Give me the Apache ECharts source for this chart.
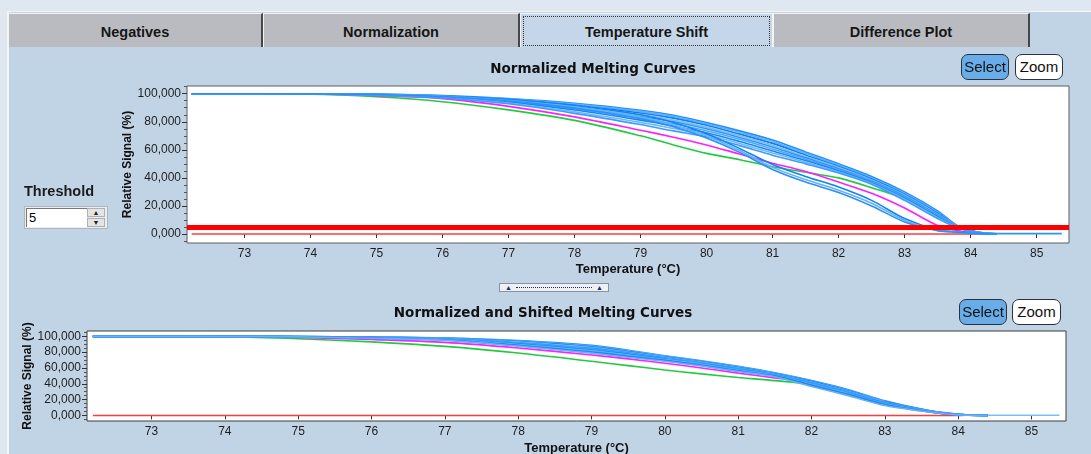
<!DOCTYPE html>
<html>
<head>
<meta charset="utf-8">
<script src="https://cdn.jsdelivr.net/npm/echarts@6/dist/echarts.min.js"></script>
<style>
  body { margin: 0; background: #dfe7f0; }
  #page { position: relative; width: 1091px; height: 454px; overflow: hidden; background: #dfe7f0;
          font-family: 'Liberation Sans', Arial, sans-serif; }
  .panel { position: absolute; left: 7px; top: 11px; right: 0; bottom: 0; background: #c1d4e6;
           border-left: 2px solid #f3f6f9; border-top: 1px solid #f3f6f9; }
  #chart { position: absolute; left: 0; top: 0; width: 1091px; height: 454px; z-index: 1; }
  .ui { position: absolute; z-index: 2; box-sizing: border-box; }
  .tab { top: 13px; height: 34px; background: #b9bbc0; border-top: 1px solid #f4f4f4; border-left: 1px solid #f4f4f4;
         border-right: 2px solid #474747; font-weight: bold; font-size: 14.5px; color: #161616;
         text-align: center; line-height: 37px; }
  .tab.active { background: #c4d6e8; border-right: 1px solid #f4f4f4; }
  .tab .focus { position: absolute; left: 2px; top: 2px; right: 2px; bottom: 1px; border: 1px dotted #333; }
  .btn { height: 26px; border: 1.5px solid #29323d; border-radius: 7px; font-size: 15px; line-height: 23px;
         text-align: center; color: #111; }
  .btn.sel { background: #68ade8; }
  .btn.zoom { background: #fff; }
  .thr { left: 24px; top: 183px; font-weight: bold; font-size: 14.5px; color: #1b1b1b; }
  .spin { left: 24px; top: 206px; width: 84px; height: 23px; background: #e9eef3; border: 1px solid #aeb6bf; }
  .spin .inp { position: absolute; left: 1px; top: 1px; width: 61px; height: 19px; background: #fff;
               border-top: 1px solid #777; border-left: 1px solid #777; box-sizing: border-box;
               font-size: 13px; line-height: 18px; padding-left: 2px; }
  .spin .arr { position: absolute; left: 62px; width: 18px; height: 9px; background: #e4e4e4; border: 1px solid #b0b0b0;
               font-size: 7px; line-height: 8px; text-align: center; color: #222; box-sizing: border-box; }
  .split { left: 499px; top: 283px; width: 110px; height: 9px; background: #eef0f3; border: 1px solid #8a92a0;
           font-size: 7px; line-height: 7px; color: #1d2a7a; }
  .split .dots { position: absolute; left: 16px; right: 16px; top: 3px; border-top: 1px dotted #1d2a7a; }
</style>
</head>
<body>
<div id="page">
  <div class="panel"></div>

  <div class="ui tab" style="left:8px;width:255px;">Negatives</div>
  <div class="ui tab" style="left:263px;width:257px;">Normalization</div>
  <div class="ui tab active" style="left:520px;width:253px;"><span class="focus"></span>Temperature Shift</div>
  <div class="ui tab" style="left:773px;width:257px;">Difference Plot</div>

  <div class="ui btn sel" style="left:961px;top:54px;width:48px;">Select</div>
  <div class="ui btn zoom" style="left:1015px;top:54px;width:48px;">Zoom</div>
  <div class="ui btn sel" style="left:959px;top:299px;width:48px;">Select</div>
  <div class="ui btn zoom" style="left:1012px;top:299px;width:49px;">Zoom</div>

  <div class="ui thr">Threshold</div>
  <div class="ui spin">
    <div class="inp">5</div>
    <div class="arr" style="top:1px;">&#9650;</div>
    <div class="arr" style="top:11px;">&#9660;</div>
  </div>

  <div class="ui split">
    <span style="position:absolute;left:5px;top:0;">&#9650;</span>
    <div class="dots"></div>
    <span style="position:absolute;right:5px;top:0;">&#9650;</span>
  </div>

  <div id="chart"></div>
</div>

<script>
  // temperatures (°C) shared by the curves
  const temps = [72.2, 74, 75, 76, 77, 78, 79, 79.5, 80, 80.5, 81, 81.5, 82, 82.5, 83, 83.5, 83.8, 84.1, 84.4]
  const tailTemps = [84.8, 85.38]
  const xTicks = [73, 74, 75, 76, 77, 78, 79, 80, 81, 82, 83, 84, 85]
  const yTicks = [0, 20, 40, 60, 80, 100]
  const yMinorTicks = [-5, 5, 10, 15, 25, 30, 35, 45, 50, 55, 65, 70, 75, 85, 90, 95, 105]
  const threshold = 5

  // Normalized Melting Curves
  const redTopTemps = [72.2, 84.32]
  const redTop = [0, 0]
  const greenTop = [100, 99.6, 97.8, 94.3, 88.5, 81, 70, 63.5, 57.5, 53, 48, 44, 40, 33, 25, 11.5, 5, 1.5, 0]
  const magentaTop = [100, 99.8, 98.6, 96.5, 91, 83.5, 74, 69, 63.5, 57, 50.5, 44.5, 37, 29, 18.5, 6, 2.5, 0.5, 0]
  const blueTop1 = [100, 100, 99.7, 98.7, 96.5, 93.2, 88.2, 84.6, 79.4, 73.5, 67, 58.5, 50, 41, 30, 16.5, 6, 1.5, 0.2]
  const blueTop2 = [100, 100, 99.6, 98.6, 96.2, 92.6, 87.4, 83.8, 78.6, 72.5, 66, 57.5, 49.2, 40, 29, 15.5, 5.8, 1.4, 0.2]
  const blueTop3 = [100, 100, 99.5, 98.4, 95.8, 91.8, 86.3, 82.6, 77.5, 71.2, 64.6, 56.4, 48.2, 39.2, 28.2, 14.8, 5.5, 1.3, 0.1]
  const blueTop4 = [100, 100, 99.5, 98.2, 95.4, 91, 85, 81.2, 76.2, 70, 63.2, 55.2, 47.4, 38.5, 27.6, 14.2, 5.4, 1.2, 0.1]
  const blueTop5 = [100, 99.9, 99.4, 98, 95, 90.2, 83.8, 80, 75, 68.8, 62, 54.3, 46.6, 37.8, 27, 13.6, 5.2, 1.2, 0.3]
  const blueTop5Tail = [0.3, 0.3]
  const blueTop6 = [100, 99.9, 99.3, 97.8, 94.6, 89.4, 82.6, 78.6, 73.6, 67.5, 60.6, 53.4, 45.8, 37.2, 26.3, 13, 5, 1.1, 0]
  const blueTop7 = [100, 99.9, 99.2, 97.6, 94, 88.4, 81.2, 77, 72.2, 66, 59.2, 52.4, 45, 36.6, 25.5, 12.4, 4.8, 1.1, 0]
  const blueTop8 = [100, 99.8, 99.1, 97.3, 93.4, 87.2, 79.6, 75.2, 70.8, 64.5, 57.8, 51.2, 44.2, 36, 24.8, 11.7, 4.6, 1, 0]
  const blueTop9 = [100, 99.8, 99, 97, 92.8, 86, 78, 73.5, 69.3, 63, 56.2, 50, 43.5, 35.5, 24, 11, 4.5, 1, 0]
  const blueTop10 = [100, 100, 99.6, 98.4, 95.8, 91.6, 85, 79.5, 71.5, 61, 49.5, 41, 33.5, 24, 11, 2.8, 1.8, 0.6, 0]
  const blueTop11 = [100, 100, 99.5, 98.2, 95.2, 90.6, 83.4, 77.8, 69.8, 59.5, 47.5, 38.8, 31.2, 22, 9.8, 2.6, 1.4, 0.4, 0]
  const blueTop12 = [100, 99.9, 99.4, 98, 94.8, 89.8, 82.2, 76.5, 68.4, 58.2, 46, 37, 29.6, 20, 8.6, 2.4, 1.2, 0.3, 0]

  // Normalized and Shifted Melting Curves
  const redBotTemps = [72.2, 84.07]
  const redBot = [0, 0]
  const greenBot = [100, 99.5, 97, 93, 87.3, 79, 68.5, 63, 57.5, 52.5, 48, 44, 39, 28.5, 16.5, 7, 3, 0.5, 0]
  const magentaBot = [100, 99.8, 98.5, 96, 92.4, 85.3, 76.5, 71.5, 66, 60, 53.5, 47.5, 41, 31, 18, 7.5, 3.5, 0.6, 0]
  const blueBot1 = [100, 100, 99.8, 99.2, 98, 94.8, 88.8, 82.4, 75.4, 69, 62, 53.8, 44, 32.5, 18.5, 8, 3.2, 0.9, 0]
  const blueBot2 = [100, 100, 99.8, 99.1, 97.8, 94.2, 87.8, 81.6, 74.8, 68.4, 61.4, 53.2, 43.4, 31.4, 17.6, 7.8, 3.1, 0.8, 0]
  const blueBot3 = [100, 100, 99.7, 99, 97.6, 93.6, 86.9, 80.8, 74, 67.8, 60.7, 52.6, 42.7, 30.8, 17.2, 7.6, 3, 0.8, 0]
  const blueBot4 = [100, 100, 99.7, 98.9, 97.3, 92.8, 85.8, 80, 73.4, 67.1, 60, 52, 42, 30.2, 16.7, 7.3, 2.9, 0.7, 0.2]
  const blueBot4Tail = [0.2, 0.2]
  const blueBot5 = [100, 100, 99.7, 98.7, 97, 92, 84.8, 79.2, 72.8, 66.5, 59.3, 51.6, 41.3, 29.6, 16.2, 7.1, 2.8, 0.7, 0]
  const blueBot6 = [100, 100, 99.6, 98.5, 96.7, 91.2, 83.8, 78.3, 72.1, 65.9, 58.6, 51.2, 40.7, 29, 15.7, 6.8, 2.6, 0.6, 0]
  const blueBot7 = [100, 100, 99.6, 98.4, 96.4, 90.5, 82.7, 77.4, 71.4, 65.2, 58, 50.8, 40, 28.4, 15.2, 6.6, 2.5, 0.5, 0]
  const blueBot8 = [100, 99.9, 99.5, 98.2, 96, 89.8, 81.6, 76.4, 70.7, 64.6, 57.4, 50.5, 39.3, 27.8, 14.7, 6.3, 2.4, 0.5, 0]
  const blueBot9 = [100, 99.9, 99.5, 98, 95.7, 89, 80.6, 75.5, 70, 63.9, 56.8, 50.1, 38.6, 27.1, 14.2, 6, 2.2, 0.4, 0]
  const blueBot10 = [100, 99.9, 99.4, 97.8, 95.3, 88.3, 79.7, 74.5, 69.3, 63.2, 56.1, 49.8, 37.8, 26.3, 13.4, 5.8, 2.1, 0.4, 0]
  const blueBot11 = [100, 99.9, 99.4, 97.6, 95, 87.6, 78.8, 73.6, 68.6, 62.5, 55.5, 49, 36.5, 25, 12.5, 5.5, 2, 0.3, 0]

  const blues = ['#1e8fff', '#62adf5', '#0a80f2', '#7dbdf6', '#2a94fb', '#4fa5f7',
                 '#1486f5', '#6fb6f7', '#3a9cfb', '#0f84f3', '#67b1f5', '#2890fa']

  function pair (ts, vs) {
    return ts.map((t, i) => [t, vs[i]])
  }

  const fmtY = v => v.toFixed(3).replace('.', ',')
  const labelFont = { fontSize: 12, color: '#1e1e1e', fontFamily: 'Liberation Sans, Arial, sans-serif' }
  const nameFont = { fontSize: 12, fontWeight: 'bold', color: '#111', fontFamily: 'Liberation Sans, Arial, sans-serif' }

  function xAxis (grid, min, max, gap) {
    return {
      type: 'value', gridIndex: grid, min: min, max: max,
      name: 'Temperature (°C)', nameLocation: 'middle', nameGap: gap, nameMoveOverlap: false,
      nameTextStyle: Object.assign({}, nameFont, { fontSize: 13 }),
      axisLine: { show: false },
      axisTick: { customValues: xTicks, length: 4, lineStyle: { color: '#333' } },
      axisLabel: Object.assign({ customValues: xTicks, margin: 5, formatter: v => String(Math.round(v)) }, labelFont),
      splitLine: { show: false }
    }
  }
  function yAxis (grid, min, max, gap) {
    return {
      type: 'value', gridIndex: grid, position: 'left', min: min, max: max,
      name: 'Relative Signal (%)', nameLocation: 'middle', nameGap: gap, nameMoveOverlap: false,
      nameTextStyle: nameFont,
      axisLine: { show: false },
      axisTick: { customValues: yTicks, length: 5, lineStyle: { color: '#333' } },
      axisLabel: Object.assign({ customValues: yTicks, margin: 6, formatter: fmtY }, labelFont),
      splitLine: { show: false }
    }
  }
  function yMinor (grid, min, max) {
    return {
      type: 'value', gridIndex: grid, position: 'left', offset: 0, min: min, max: max,
      axisLine: { show: false },
      axisTick: { customValues: yMinorTicks, length: 3, lineStyle: { color: '#555' } },
      axisLabel: { show: false },
      splitLine: { show: false }
    }
  }

  function line (name, data, color, xi, yi, width) {
    return {
      name: name, type: 'line', xAxisIndex: xi, yAxisIndex: yi, data: data,
      showSymbol: false, smooth: 0.3, silent: true,
      lineStyle: { color: color, width: width || 1.6 }
    }
  }

  const topBlues = [blueTop1, blueTop2, blueTop3, blueTop4, blueTop5, blueTop6,
                    blueTop7, blueTop8, blueTop9, blueTop10, blueTop11, blueTop12]
  const botBlues = [blueBot1, blueBot2, blueBot3, blueBot4, blueBot5, blueBot6,
                    blueBot7, blueBot8, blueBot9, blueBot10, blueBot11]

  const series = []
  const redTopSeries = line('neg', pair(redTopTemps, redTop), '#ff3b3b', 0, 0, 1.5)
  redTopSeries.markLine = {
    silent: true, symbol: 'none', animation: false, label: { show: false },
    lineStyle: { color: '#ff0000', width: 5, type: 'solid' },
    data: [{ yAxis: threshold }]
  }
  series.push(redTopSeries)
  series.push(line('green', pair(temps, greenTop), '#1fcc40', 0, 0))
  series.push(line('magenta', pair(temps, magentaTop), '#ff1eff', 0, 0))
  topBlues.forEach((vals, i) => {
    let d = pair(temps, vals)
    if (vals === blueTop5) d = d.concat(pair(tailTemps, blueTop5Tail))
    series.push(line('blue' + (i + 1), d, blues[i], 0, 0))
  })

  series.push(line('neg', pair(redBotTemps, redBot), '#ff3b3b', 1, 2, 1.5))
  series.push(line('green', pair(temps, greenBot), '#1fcc40', 1, 2))
  series.push(line('magenta', pair(temps, magentaBot), '#ff1eff', 1, 2))
  botBlues.forEach((vals, i) => {
    let d = pair(temps, vals)
    if (vals === blueBot4) d = d.concat(pair(tailTemps, blueBot4Tail))
    series.push(line('blue' + (i + 1), d, blues[i], 1, 2))
  })

  const chart = echarts.init(document.getElementById('chart'), null, { renderer: 'canvas' })
  chart.setOption({
    animation: false,
    backgroundColor: 'transparent',
    title: [
      { text: 'Normalized Melting Curves', left: 593, top: 62, textAlign: 'center', padding: 0,
        textStyle: { fontFamily: 'DejaVu Sans', fontWeight: 'bold', fontSize: 13.5, color: '#111' } },
      { text: 'Normalized and Shifted Melting Curves', left: 543, top: 306, textAlign: 'center', padding: 0,
        textStyle: { fontFamily: 'DejaVu Sans', fontWeight: 'bold', fontSize: 13.5, color: '#111' } }
    ],
    grid: [
      { left: 187, top: 86, width: 882, height: 157, show: true, backgroundColor: '#fff',
        borderColor: '#5e5e5e', borderWidth: 1, outerBoundsMode: 'none' },
      { left: 87, top: 331, width: 979, height: 90, show: true, backgroundColor: '#fff',
        borderColor: '#3c3c3c', borderWidth: 1, outerBoundsMode: 'none' }
    ],
    xAxis: [xAxis(0, 72.13, 85.49, 20), xAxis(1, 72.12, 85.47, 21)],
    yAxis: [yAxis(0, -6.4, 105.5, 53), yMinor(0, -6.4, 105.5), yAxis(1, -7.1, 106.8, 53), yMinor(1, -7.1, 106.8)],
    series: series
  })
</script>
</body>
</html>
